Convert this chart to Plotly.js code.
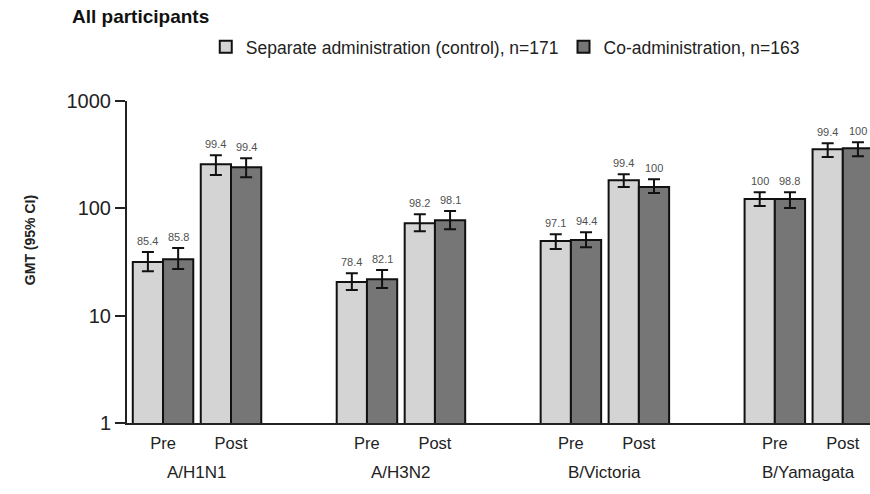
<!DOCTYPE html>
<html>
<head>
<meta charset="utf-8">
<script src="https://cdn.plot.ly/plotly-3.0.1.min.js"></script>
<style>html,body{margin:0;padding:0;background:#fff;}#chart{width:870px;height:494px;}</style>
</head>
<body>
<div id="chart"></div>
<script>
// ---- Data ----
var strains = ['A/H1N1', 'A/H3N2', 'B/Victoria', 'B/Yamagata'];
var timepoints = ['Pre', 'Post'];

// order: H1N1 Pre, H1N1 Post, H3N2 Pre, H3N2 Post, Vic Pre, Vic Post, Yam Pre, Yam Post
var controlGMT   = [31.6, 258, 20.6, 72.8, 49.5, 183, 122, 356];
var controlUpper = [39.1, 313, 24.9, 88.3, 57.5, 208, 141.5, 405];
var controlLower = [26.0, 204, 17.3, 61.3, 41.7, 158, 105, 300];
var controlSP    = ['85.4', '99.4', '78.4', '98.2', '97.1', '99.4', '100', '99.4'];

var coadGMT   = [33.6, 242, 21.9, 77.6, 50.6, 158, 122, 362];
var coadUpper = [42.6, 293, 26.6, 94.2, 60.0, 187, 141.5, 413];
var coadLower = [27.2, 195, 18.1, 64.0, 43.5, 139, 100.5, 306];
var coadSP    = ['85.8', '99.4', '82.1', '98.1', '94.4', '100', '98.8', '100'];

var seriesNames = ['Separate administration (control), n=171', 'Co-administration, n=163'];

// ---- Build positions: each strain gets a Pre and Post slot, with a gap slot between strains ----
var xPos = [], tickText = [];
strains.forEach(function (s, g) {
  timepoints.forEach(function (t, k) { xPos.push(3 * g + k); tickText.push(t); });
});

function plus(v, u) { return u.map(function (x, i) { return +(x - v[i]).toFixed(3); }); }
function minus(v, l) { return l.map(function (x, i) { return +(v[i] - x).toFixed(3); }); }

var FONT = 'Liberation Sans, Arial, sans-serif';
var errStyle = {type: 'data', symmetric: false, color: '#111', thickness: 2, width: 6};

var trControl = {
  type: 'bar', name: seriesNames[0], x: xPos, y: controlGMT,
  marker: {color: '#d4d4d4', line: {color: '#111', width: 2}},
  error_y: Object.assign({array: plus(controlGMT, controlUpper), arrayminus: minus(controlGMT, controlLower)}, errStyle),
  hoverinfo: 'skip'
};
var trCoad = {
  type: 'bar', name: seriesNames[1], x: xPos, y: coadGMT,
  marker: {color: '#767676', line: {color: '#111', width: 2}},
  error_y: Object.assign({array: plus(coadGMT, coadUpper), arrayminus: minus(coadGMT, coadLower)}, errStyle),
  hoverinfo: 'skip'
};

var bargap = 0.11;
var halfBar = (1 - bargap) / 4;

var annotations = [];
xPos.forEach(function (x, i) {
  annotations.push({x: x - halfBar, y: Math.log10(controlUpper[i]), xref: 'x', yref: 'y',
    text: controlSP[i], showarrow: false, yanchor: 'bottom', yshift: 3,
    font: {family: FONT, size: 11, color: '#505050'}});
  annotations.push({x: x + halfBar, y: Math.log10(coadUpper[i]), xref: 'x', yref: 'y',
    text: coadSP[i], showarrow: false, yanchor: 'bottom', yshift: 3,
    font: {family: FONT, size: 11, color: '#505050'}});
});
strains.forEach(function (s, g) {
  annotations.push({x: 3 * g + 0.5, xref: 'x', y: -0.155, yref: 'paper', text: s,
    showarrow: false, yanchor: 'middle',
    font: {family: FONT, size: 17, color: '#222'}});
});
// y-axis title
annotations.push({x: -0.1305, xref: 'paper', y: 0.568, yref: 'paper', text: '<b>GMT (95% CI)</b>',
  textangle: -90, showarrow: false, xanchor: 'center', yanchor: 'middle',
  font: {family: FONT, size: 14, color: '#222'}});

var layout = {
  width: 870, height: 494,
  margin: {l: 127, r: 0, t: 101, b: 71},
  paper_bgcolor: '#fff', plot_bgcolor: '#fff',
  barmode: 'group', bargap: bargap, bargroupgap: 0,
  showlegend: true,
  title: {text: '<b>All participants</b>', x: 72 / 870, xanchor: 'left', xref: 'container',
    y: 1 - 16 / 494, yref: 'container', yanchor: 'middle',
    font: {family: FONT, size: 19, color: '#111'}},
  legend: {orientation: 'h', x: 0.106, xanchor: 'left', y: 1.168, yanchor: 'middle',
    font: {family: FONT, size: 17.5, color: '#222'},
    bgcolor: 'rgba(0,0,0,0)', traceorder: 'normal'},
  xaxis: {range: [-0.53, 10.40], tickmode: 'array', tickvals: xPos, ticktext: tickText,
    showgrid: false, zeroline: false, showline: true, linecolor: '#222', linewidth: 2,
    ticks: '', ticklabelstandoff: 4,
    tickfont: {family: FONT, size: 16.5, color: '#222'}},
  yaxis: {type: 'log', range: [0, 3], tickmode: 'array', tickvals: [1, 10, 100, 1000],
    ticktext: ['1', '10', '100', '1000'],
    showgrid: false, zeroline: false, showline: true, linecolor: '#222', linewidth: 2,
    ticks: 'outside', ticklen: 10, tickwidth: 2, tickcolor: '#222',
    tickfont: {family: FONT, size: 20, color: '#222'}},
  annotations: annotations
};

Plotly.newPlot('chart', [trControl, trCoad], layout, {displayModeBar: false, staticPlot: true});
</script>
</body>
</html>
